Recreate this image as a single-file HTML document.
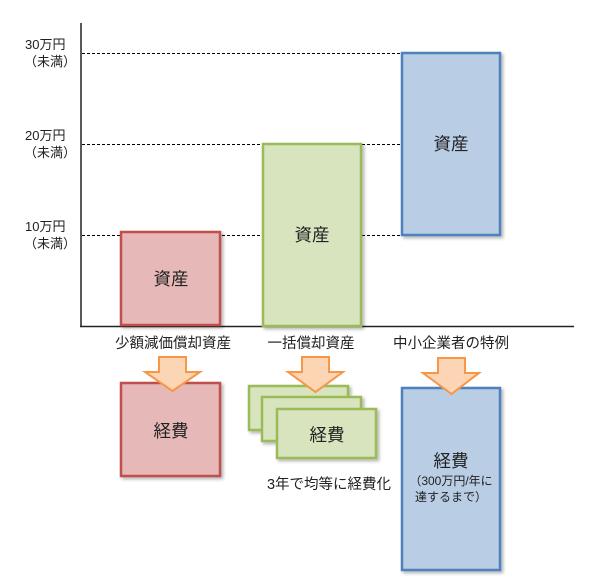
<!DOCTYPE html>
<html><head><meta charset="utf-8"><style>
html,body{margin:0;padding:0;background:#fff;}
svg{display:block;font-family:"Liberation Sans","Noto Sans CJK JP",sans-serif;}
</style></head><body>
<svg width="600" height="587" viewBox="0 0 600 587">
<defs><filter id="s" x="-10%" y="-10%" width="130%" height="130%"><feDropShadow dx="2" dy="2" stdDeviation="1.5" flood-color="#000" flood-opacity="0.3"/></filter></defs>
<g stroke="#000" stroke-width="1" stroke-dasharray="3,2">
<line x1="82" y1="53.5" x2="401" y2="53.5"/>
<line x1="82" y1="144.5" x2="401" y2="144.5"/>
<line x1="82" y1="235.5" x2="401" y2="235.5"/>
</g>
<line x1="81" y1="23" x2="81" y2="327" stroke="#222" stroke-width="1.5"/>
<line x1="80" y1="326.5" x2="574" y2="326.5" stroke="#222" stroke-width="1.5"/>
<g font-size="13" fill="#222">
<text x="25" y="49">30万円</text><text x="24" y="66">（未満）</text>
<text x="25" y="140">20万円</text><text x="24" y="157">（未満）</text>
<text x="25" y="231">10万円</text><text x="24" y="248">（未満）</text>
</g>
<g filter="url(#s)" stroke-width="2.5">
<rect x="121" y="232" width="99" height="93" fill="#e6b9b8" stroke="#c0504d"/>
<rect x="263" y="144" width="98" height="182" fill="#d7e4bd" stroke="#9bbb59"/>
<rect x="402" y="53" width="98" height="182" fill="#b9cde5" stroke="#4f81bd"/>
<rect x="121" y="383" width="99" height="93" fill="#e6b9b8" stroke="#c0504d"/>
<rect x="249" y="386" width="99" height="44" fill="#d7e4bd" stroke="#9bbb59"/>
<rect x="262" y="397" width="99" height="44" fill="#d7e4bd" stroke="#9bbb59"/>
<rect x="277" y="409" width="99" height="49" fill="#d7e4bd" stroke="#9bbb59"/>
<rect x="402" y="388" width="98" height="182" fill="#b9cde5" stroke="#4f81bd"/>
</g>
<g fill="#fcd5b5" stroke="#f79646" stroke-width="2">
<path d="M159,357 H186 V372 H200 L172.5,391 L145,372 H159 Z"/>
<path d="M302,357 H329 V372 H343 L315.5,392 L288,372 H302 Z"/>
<path d="M438,358 H465 V373 H479 L451.5,394 L423,373 H438 Z"/>
</g>
<g font-size="17.5" fill="#222" text-anchor="middle">
<text x="171" y="285">資産</text>
<text x="312" y="241">資産</text>
<text x="451" y="150">資産</text>
<text x="171" y="437">経費</text>
<text x="327" y="441">経費</text>
<text x="451" y="467">経費</text>
</g>
<g font-size="14.5" fill="#222" text-anchor="middle">
<text x="173" y="348">少額減価償却資産</text>
<text x="311" y="348">一括償却資産</text>
<text x="451" y="348">中小企業者の特例</text>
<text x="329" y="489">3年で均等に経費化</text>
</g>
<g font-size="12" fill="#222" text-anchor="middle">
<text x="451" y="485">（300万円/年に</text>
<text x="451" y="501">達するまで）</text>
</g>
</svg>
</body></html>
